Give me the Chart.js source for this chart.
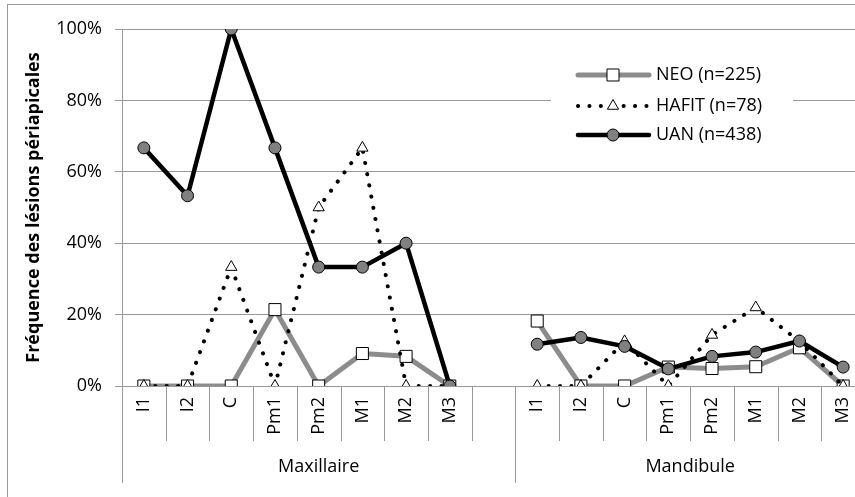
<!DOCTYPE html>
<html>
<head>
<meta charset="utf-8">
<script src="https://cdn.jsdelivr.net/npm/chart.js@4.4.1/dist/chart.umd.min.js"></script>
<style>
  html, body { margin: 0; padding: 0; overflow: hidden; background: #fff; }
  #wrap { width: 880px; height: 510px; }
</style>
</head>
<body>
<div id="wrap"><canvas id="myChart" width="880" height="510"></canvas></div>
<script>
// categories (empty slot separates the two jaws)
const dents = ['I1', 'I2', 'C', 'Pm1', 'Pm2', 'M1', 'M2', 'M3', '',
  'I1', 'I2', 'C', 'Pm1', 'Pm2', 'M1', 'M2', 'M3'];
const groupes = ['Maxillaire', 'Mandibule'];
const groupeTailles = [9, 8];

// values in %
const neo = [0, 0, 0, 21.4, 0, 9.1, 8.3, 0, null, 18.2, 0, 0, 5.3, 4.9, 5.4, 10.7, 0];
const hafit = [0, 0, 33.3, 0, 50, 66.7, 0, 0, null, 0, 0, 12.5, 0, 14.3, 22, 12.5, 0];
const uan = [66.7, 53.3, 100, 66.7, 33.3, 33.3, 40, 0, null, 11.7, 13.6, 11.1, 4.8, 8.3, 9.5, 12.6, 5.3];

const yTicks = [0, 20, 40, 60, 80, 100];
const legendes = ['NEO (n=225)', 'HAFIT (n=78)', 'UAN (n=438)'];

const police = '"Open Sans", "Liberation Sans", sans-serif';
const gris = '#8c8c8c';
const grille = '#999999';

// extra drawing : multi-level axis, frame, legend
const extras = {
  id: 'extras',
  afterDraw(chart) {
    const c = chart.ctx;
    const xs = chart.scales.x;
    const area = chart.chartArea;
    const band = (area.right - area.left) / dents.length;
    c.save();
    c.strokeStyle = grille;
    c.lineWidth = 1;
    // frame
    c.strokeRect(7.5, 4.5, 1000, 1000);
    // separators
    let bornes = [0];
    let acc = 0;
    groupeTailles.forEach(n => { acc += n; bornes.push(acc); });
    for (let i = 0; i <= dents.length; i++) {
      const x = Math.round(area.left + i * band) + 0.5;
      const long = bornes.includes(i) ? 97 : 55;
      c.beginPath();
      c.moveTo(x, area.bottom);
      c.lineTo(x, area.bottom + long);
      c.stroke();
    }
    // group labels
    c.fillStyle = '#000';
    c.font = '18px ' + police;
    c.textAlign = 'center';
    c.textBaseline = 'middle';
    groupes.forEach((g, k) => {
      const x0 = xs.getPixelForValue(bornes[k]) - band / 2;
      const x1 = xs.getPixelForValue(bornes[k + 1] - 1) + band / 2;
      c.fillText(g, (x0 + x1) / 2, area.bottom + 81);
    });

    // legend
    c.fillStyle = '#fff';
    c.fillRect(551, 50, 242, 105);
    const ys = [75, 106, 135];
    chart.data.datasets.forEach((ds, k) => {
      const y = ys[k];
      c.save();
      c.strokeStyle = ds.borderColor;
      c.lineWidth = ds.borderWidth;
      c.lineCap = 'round';
      if (ds.borderDash) c.setLineDash(ds.borderDash);
      c.beginPath();
      c.moveTo(578, y);
      c.lineTo(649, y);
      c.stroke();
      c.restore();
      c.save();
      c.fillStyle = ds.pointBackgroundColor;
      c.strokeStyle = ds.pointBorderColor;
      c.lineWidth = 1;
      Chart.helpers.drawPoint(c, {
        pointStyle: ds.pointStyle,
        radius: ds.pointRadius,
        rotation: 0,
        borderWidth: 1
      }, 613, y);
      c.restore();
      c.fillStyle = '#000';
      c.font = '18px ' + police;
      c.textAlign = 'left';
      c.textBaseline = 'middle';
      c.fillText(legendes[k], 656, y);
    });
    c.restore();
  }
};

const ctx = document.getElementById('myChart');
new Chart(ctx, {
  type: 'line',
  data: {
    labels: dents,
    datasets: [{
      label: legendes[0],
      data: neo,
      borderColor: gris,
      borderWidth: 5,
      pointStyle: 'rect',
      pointRadius: 8.5,
      pointBackgroundColor: '#fff',
      pointBorderColor: '#000',
      pointBorderWidth: 1,
      order: 3
    }, {
      label: legendes[1],
      data: hafit,
      borderColor: '#000',
      borderWidth: 4,
      borderDash: [0.1, 11.3],
      borderCapStyle: 'round',
      pointStyle: 'triangle',
      pointRadius: 6.5,
      pointBackgroundColor: '#fff',
      pointBorderColor: '#000',
      pointBorderWidth: 1,
      order: 2
    }, {
      label: legendes[2],
      data: uan,
      borderColor: '#000',
      borderWidth: 4.5,
      pointStyle: 'circle',
      pointRadius: 6,
      pointBackgroundColor: '#808080',
      pointBorderColor: '#000',
      pointBorderWidth: 1,
      order: 1
    }]
  },
  options: {
    responsive: false,
    animation: false,
    spanGaps: false,
    layout: { padding: { left: 20, top: 29, right: 15, bottom: 0 } },
    plugins: {
      legend: { display: false },
      tooltip: { enabled: false }
    },
    elements: { line: { tension: 0, borderJoinStyle: 'round' } },
    scales: {
      x: {
        offset: true,
        grid: { display: false, drawTicks: false },
        border: { display: true, color: grille },
        ticks: {
          autoSkip: false,
          minRotation: 90,
          maxRotation: 90,
          padding: 11,
          color: '#000',
          font: { family: police, size: 18 }
        },
        afterFit: (s) => { s.height = 124; }
      },
      y: {
        min: 0,
        max: 100,
        afterBuildTicks: (s) => { s.ticks = yTicks.map(v => ({ value: v })); },
        grid: { color: grille, tickLength: 7 },
        border: { display: true, color: grille },
        ticks: {
          padding: 13,
          color: '#000',
          font: { family: police, size: 18 },
          callback: (v) => v + '%'
        },
        title: {
          display: true,
          text: 'Fréquence des lésions périapicales',
          color: '#000',
          font: { family: police, size: 18, weight: 'bold' },
          padding: { top: 3, bottom: 0 }
        },
        afterFit: (s) => { s.width = 102; }
      }
    }
  },
  plugins: [extras]
});
</script>
</body>
</html>
